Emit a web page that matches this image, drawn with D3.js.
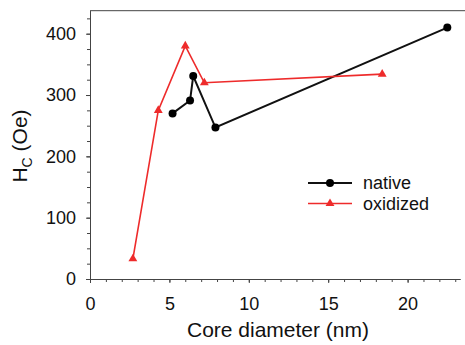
<!DOCTYPE html>
<html><head><meta charset="utf-8">
<script src="https://cdn.jsdelivr.net/npm/d3@7"></script>
<style>body{margin:0;background:#fff}svg{display:block}text{font-family:"Liberation Sans",Arial,sans-serif;fill:#111}</style>
</head><body><svg id="c" width="465" height="345"></svg>
<script>
const nativeX = [5.2, 6.3, 6.5, 7.9, 22.5];
const nativeY = [270, 291, 331, 247, 410];
const oxidizedX = [2.7, 4.3, 6.0, 7.2, 18.4];
const oxidizedY = [33, 275, 380, 320, 334];
const xTicks = [0, 5, 10, 15, 20];
const yTicks = [0, 100, 200, 300, 400];
const seriesNames = ["native", "oxidized"];

const svg = d3.select("#c");
const x = d3.scaleLinear().domain([0, 23.3]).range([90, 460]);
const y = d3.scaleLinear().domain([0, 437.5]).range([279, 10.7]);
const axisColor = "#444";

// top frame line
svg.append("line").attr("x1", 90).attr("x2", 465).attr("y1", y(437.5)).attr("y2", y(437.5))
  .attr("stroke", axisColor).attr("stroke-width", 1);

// X axis
const gx = svg.append("g").attr("transform", `translate(0,${y(0)})`);
gx.call(d3.axisBottom(x).tickValues(d3.range(0, 24, 1)).tickFormat("").tickSize(3).tickSizeOuter(0));
gx.append("g").call(d3.axisBottom(x).tickValues(xTicks).tickFormat(d3.format("d")).tickSize(4).tickPadding(14).tickSizeOuter(0));
gx.selectAll(".domain").attr("stroke", axisColor);
gx.selectAll("line").attr("stroke", axisColor);
gx.selectAll("text").style("font-size", "18px").attr("fill", "#111");

// Y axis
const gy = svg.append("g").attr("transform", `translate(${x(0)},0)`);
gy.call(d3.axisLeft(y).tickValues(d3.range(0, 437, 25)).tickFormat("").tickSize(3).tickSizeOuter(0));
gy.append("g").call(d3.axisLeft(y).tickValues(yTicks).tickFormat(d3.format("d")).tickSize(4).tickPadding(10).tickSizeOuter(0));
gy.selectAll(".domain").attr("stroke", axisColor);
gy.selectAll("line").attr("stroke", axisColor);
gy.selectAll("text").style("font-size", "18px").attr("fill", "#111");

// axis titles
svg.append("text").attr("x", 278).attr("y", 337).attr("text-anchor", "middle")
  .style("font-size", "21px").text("Core diameter (nm)");
const yt = svg.append("text").attr("transform", "translate(27,146) rotate(-90)")
  .attr("text-anchor", "middle").style("font-size", "21px");
yt.append("tspan").text("H");
yt.append("tspan").attr("dy", 5).style("font-size", "14px").text("C");
yt.append("tspan").attr("dy", -5).text(" (Oe)");

const nat = nativeX.map((v, i) => [v, nativeY[i]]);
const oxi = oxidizedX.map((v, i) => [v, oxidizedY[i]]);
const line = d3.line().x(d => x(d[0])).y(d => y(d[1]));
const red = "#ee2b2b";

svg.append("path").attr("d", line(nat)).attr("fill", "none").attr("stroke", "#111").attr("stroke-width", 2);
svg.selectAll(".nc").data(nat).join("circle").attr("cx", d => x(d[0])).attr("cy", d => y(d[1]))
  .attr("r", 4).attr("fill", "#000");

const tri = d3.symbol().type(d3.symbolTriangle).size(34);
svg.append("path").attr("d", line(oxi)).attr("fill", "none").attr("stroke", red).attr("stroke-width", 1.6);
svg.selectAll(".ot").data(oxi).join("path").attr("d", tri)
  .attr("transform", d => `translate(${x(d[0])},${y(d[1])})`).attr("fill", red);

// legend
const lg = svg.append("g");
const ly = [183, 203.5];
lg.append("line").attr("x1", 308).attr("x2", 352).attr("y1", ly[0]).attr("y2", ly[0]).attr("stroke", "#111").attr("stroke-width", 2);
lg.append("circle").attr("cx", 330).attr("cy", ly[0]).attr("r", 4).attr("fill", "#000");
lg.append("line").attr("x1", 308).attr("x2", 352).attr("y1", ly[1]).attr("y2", ly[1]).attr("stroke", red).attr("stroke-width", 1.6);
lg.append("path").attr("d", tri).attr("transform", `translate(330,${ly[1]})`).attr("fill", red);
lg.selectAll(".lt").data(seriesNames).join("text").attr("x", 363).attr("y", (d, i) => ly[i] + 6)
  .style("font-size", "18px").text(d => d);
</script></body></html>
